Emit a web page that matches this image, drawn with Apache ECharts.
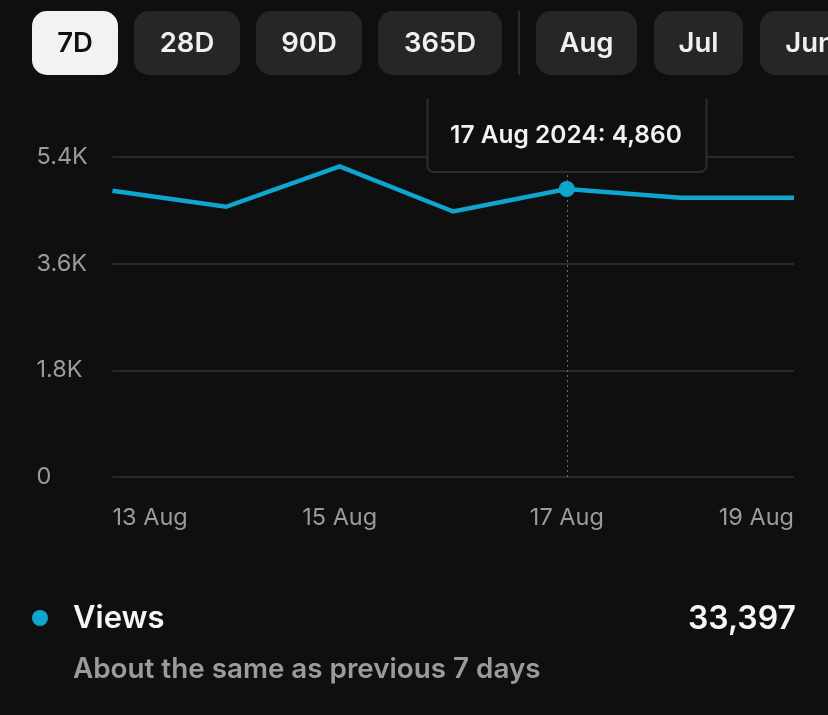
<!DOCTYPE html>
<html>
<head>
<meta charset="utf-8">
<style>
  html, body { margin: 0; padding: 0; background: #0f0f0f; }
  #chart { width: 828px; height: 715px; }
</style>
<script src="https://cdn.jsdelivr.net/npm/echarts@6/dist/echarts.min.js"></script>
</head>
<body>
<div id="chart"></div>
<script>
/* data */
const days = ['13 Aug', '14 Aug', '15 Aug', '16 Aug', '17 Aug', '18 Aug', '19 Aug'];
const views = [4830, 4560, 5240, 4480, 4860, 4713, 4714];
const yTicks = { min: 0, max: 5400, step: 1800 };
const tabLabels = ['7D', '28D', '90D', '365D', 'Aug', 'Jul', 'Jun'];
const hoverDay = '17 Aug';
const hoverYear = '2024';
const seriesName = 'Views';
const totalLabel = '33,397';
const compareLabel = 'About the same as previous 7 days';

/* colours + font */
const BG = '#0f0f0f', LINE = '#0ea5cf', GRID = '#2a2a2a', MUTED = '#9b9b9b';
const FONT = 'Inter, "Noto Sans", sans-serif';

/* tab buttons, left edge + width */
const tabBoxes = [[32, 86], [134, 106], [256, 106], [378, 124], [536, 101], [654, 89], [760, 100]];

const tabs = tabLabels.map((label, i) => {
    const [x, w] = tabBoxes[i];
    const active = i === 0;
    return {
        type: 'group',
        children: [
            { type: 'rect', shape: { x, y: 11, width: w, height: 64, r: 15 }, style: { fill: active ? '#f2f2f2' : '#262626' } },
            {
                type: 'text', x: x + w / 2, y: 44,
                style: { text: label, fill: active ? '#111' : '#f0f0f0', font: `600 27.5px ${FONT}`, align: 'center', verticalAlign: 'middle' }
            }
        ]
    };
});

const hoverIdx = days.indexOf(hoverDay);
const tipText = `${hoverDay} ${hoverYear}: ${views[hoverIdx].toLocaleString('en-US')}`;

const chart = echarts.init(document.getElementById('chart'), null, { renderer: 'canvas' });
chart.setOption({
    backgroundColor: BG,
    animation: false,
    textStyle: { fontFamily: FONT },
    grid: { left: 112.5, right: 34, top: 157, bottom: 238 },
    xAxis: {
        type: 'category',
        boundaryGap: false,
        data: days,
        axisLine: { show: false },
        axisTick: { show: false },
        axisLabel: {
            interval: 1,
            margin: 29,
            color: MUTED,
            fontSize: 23.5,
            fontFamily: FONT,
            alignMinLabel: 'left',
            alignMaxLabel: 'right'
        }
    },
    yAxis: {
        type: 'value',
        min: yTicks.min,
        max: yTicks.max,
        interval: yTicks.step,
        axisLine: { show: false },
        axisTick: { show: false },
        splitLine: { lineStyle: { color: GRID, width: 2 } },
        axisLabel: {
            margin: 76,
            align: 'left',
            color: MUTED,
            fontSize: 23.5,
            fontFamily: FONT,
            padding: [5, 0, 0, 0],
            formatter: v => (v === 0 ? '0' : (v / 1000).toFixed(1) + 'K')
        }
    },
    series: [{
        name: seriesName,
        type: 'line',
        data: views,
        showSymbol: false,
        lineStyle: { color: LINE, width: 4.5, cap: 'butt', join: 'miter' },
        markLine: {
            silent: true,
            symbol: 'none',
            label: { show: false },
            lineStyle: { color: '#6a6a6a', type: [2, 3], width: 1 },
            data: [{ xAxis: hoverDay }]
        },
        markPoint: {
            silent: true,
            symbol: 'circle',
            symbolSize: 16,
            itemStyle: { color: LINE },
            label: { show: false },
            data: [{ coord: [hoverDay, views[hoverIdx]] }]
        }
    }],
    graphic: [
        ...tabs,
        { type: 'rect', shape: { x: 518, y: 11, width: 2, height: 64 }, style: { fill: '#2c2c2c' } },
        /* tooltip, its top is cut off under the tab row */
        { type: 'rect', z: 50, shape: { x: 427.5, y: 86, width: 279, height: 86, r: 6 }, style: { fill: BG, stroke: '#2c2c2c', lineWidth: 2 } },
        { type: 'rect', z: 51, shape: { x: 420, y: 80, width: 295, height: 19 }, style: { fill: BG } },
        { type: 'text', z: 52, x: 566, y: 136, style: { text: tipText, fill: '#f2f2f2', font: `600 24.5px ${FONT}`, align: 'center', verticalAlign: 'middle' } },
        /* summary row */
        { type: 'circle', shape: { cx: 40, cy: 618, r: 8 }, style: { fill: LINE } },
        { type: 'text', x: 73, y: 619, style: { text: seriesName, fill: '#f5f5f5', font: `600 31px ${FONT}`, align: 'left', verticalAlign: 'middle' } },
        { type: 'text', x: 796, y: 619, style: { text: totalLabel, fill: '#f5f5f5', font: `600 32px ${FONT}`, align: 'right', verticalAlign: 'middle' } },
        { type: 'text', x: 73, y: 670, style: { text: compareLabel, fill: MUTED, font: `600 27.8px ${FONT}`, align: 'left', verticalAlign: 'middle' } }
    ]
});
window.addEventListener('resize', () => chart.resize());
</script>
</body>
</html>
